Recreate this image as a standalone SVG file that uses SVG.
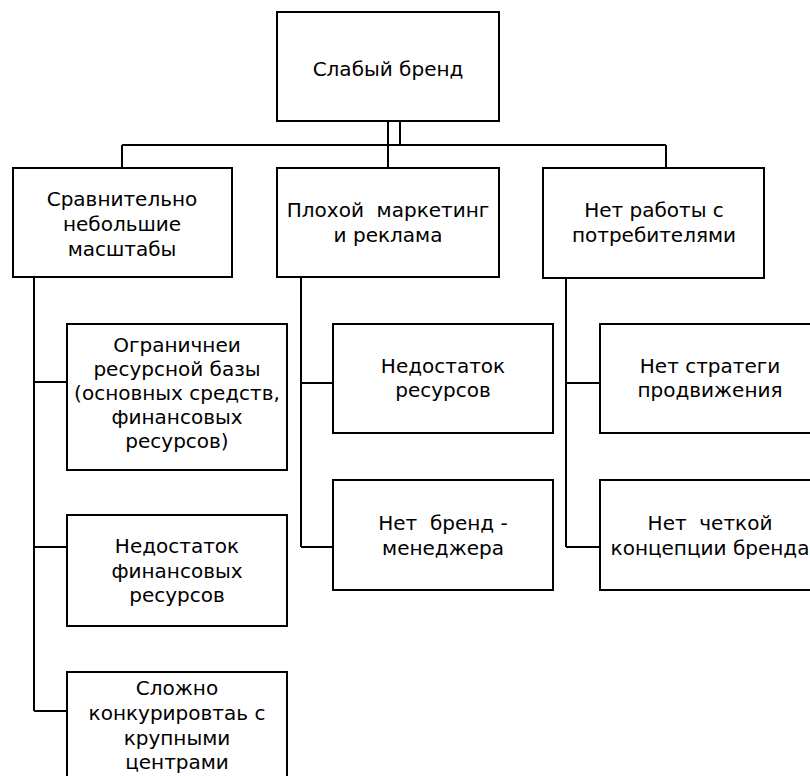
<svg xmlns="http://www.w3.org/2000/svg" width="810" height="776" viewBox="0 0 810 776">
<style>
rect.box{fill:#fff;stroke:#000;stroke-width:2}
.c line,.c rect{stroke:#000;stroke-width:2;fill:none}
text{font-family:'DejaVu Sans',sans-serif;font-size:20px;fill:#000;text-anchor:middle;white-space:pre}
</style>
<rect width="810" height="776" fill="#fff"/>
<g class="c" id="connectors">
<rect x="388" y="121" width="12" height="24"/>
<line x1="122" y1="145" x2="666" y2="145"/>
<line x1="122" y1="145" x2="122" y2="168"/>
<line x1="388" y1="145" x2="388" y2="168"/>
<line x1="666" y1="145" x2="666" y2="168"/>
<line x1="34" y1="277" x2="34" y2="711"/>
<line x1="34" y1="382" x2="67" y2="382"/>
<line x1="34" y1="547" x2="67" y2="547"/>
<line x1="34" y1="711" x2="67" y2="711"/>
<line x1="301" y1="277" x2="301" y2="547"/>
<line x1="301" y1="383" x2="333" y2="383"/>
<line x1="301" y1="547" x2="333" y2="547"/>
<line x1="566" y1="278" x2="566" y2="547"/>
<line x1="566" y1="383" x2="600" y2="383"/>
<line x1="566" y1="547" x2="600" y2="547"/>
</g>
<g id="n-top"><rect class="box" x="277" y="12" width="222" height="109"/><text x="388" y="76">Слабый бренд</text></g>
<g id="n-left"><rect class="box" x="13" y="168" width="219" height="109"/><text x="122" y="206">Сравнительно</text><text x="122" y="231">небольшие</text><text x="122" y="256">масштабы</text></g>
<g id="n-mid"><rect class="box" x="277" y="168" width="222" height="109"/><text x="388" y="217">Плохой  маркетинг</text><text x="388" y="242">и реклама</text></g>
<g id="n-right"><rect class="box" x="543" y="168" width="221" height="110"/><text x="654" y="217">Нет работы с</text><text x="654" y="242">потребителями</text></g>
<g id="n-l1"><rect class="box" x="67" y="324" width="220" height="146"/><text x="177" y="352">Ограничнеи</text><text x="177" y="376">ресурсной базы</text><text x="177" y="400">(основных средств,</text><text x="177" y="424">финансовых</text><text x="177" y="448">ресурсов)</text></g>
<g id="n-l2"><rect class="box" x="67" y="515" width="220" height="111"/><text x="177" y="553">Недостаток</text><text x="177" y="578">финансовых</text><text x="177" y="602">ресурсов</text></g>
<g id="n-l3"><rect class="box" x="67" y="672" width="220" height="120"/><text x="177" y="695">Сложно</text><text x="177" y="720">конкурировтаь с</text><text x="177" y="745">крупными</text><text x="177" y="769">центрами</text></g>
<g id="n-m1"><rect class="box" x="333" y="324" width="220" height="109"/><text x="443" y="373">Недостаток</text><text x="443" y="397">ресурсов</text></g>
<g id="n-m2"><rect class="box" x="333" y="480" width="220" height="110"/><text x="443" y="530">Нет  бренд -</text><text x="443" y="555">менеджера</text></g>
<g id="n-r1"><rect class="box" x="600" y="324" width="220" height="109"/><text x="710" y="373">Нет стратеги</text><text x="710" y="397">продвижения</text></g>
<g id="n-r2"><rect class="box" x="600" y="480" width="220" height="110"/><text x="710" y="530">Нет  четкой</text><text x="710" y="555">концепции бренда</text></g>
</svg>
